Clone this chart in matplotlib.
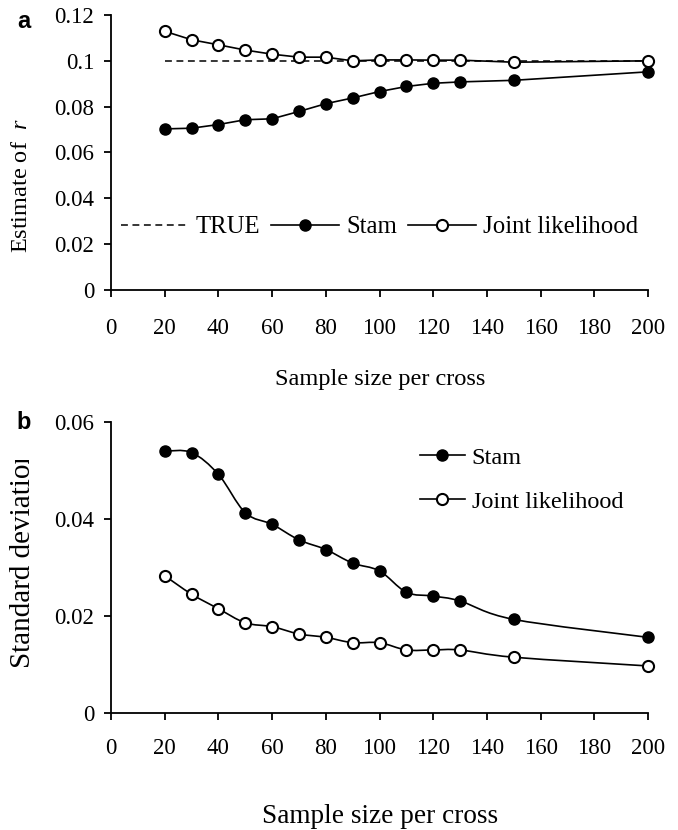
import matplotlib
matplotlib.use("Agg")
import matplotlib.pyplot as plt
import numpy as np
from matplotlib.path import Path
from matplotlib.patches import PathPatch
from matplotlib.lines import Line2D
from matplotlib.transforms import Bbox, TransformedBbox

# ---------------- data ----------------
sample_size = [20, 30, 40, 50, 60, 70, 80, 90, 100, 110, 120, 130, 150, 200]
true_r = [0.1, 0.1]
true_x = [20, 200]
est_stam = [0.0703, 0.0706, 0.0722, 0.0743, 0.0747, 0.0779, 0.0813, 0.0838,
            0.0866, 0.0888, 0.0902, 0.0908, 0.0915, 0.0952]
est_joint = [0.1129, 0.1092, 0.1070, 0.1047, 0.1029, 0.1016, 0.1016, 0.1000,
             0.1004, 0.1004, 0.1003, 0.1003, 0.0994, 0.1000]
sd_stam = [0.0540, 0.0537, 0.0492, 0.0413, 0.0389, 0.0357, 0.0337, 0.0309,
           0.0293, 0.0249, 0.0241, 0.0231, 0.0193, 0.0156]
sd_joint = [0.0283, 0.0245, 0.0215, 0.0186, 0.0178, 0.0163, 0.0156, 0.0145,
            0.0145, 0.0130, 0.0130, 0.0130, 0.0115, 0.0097]
x_ticks = list(range(0, 201, 20))
y_ticks_a = [0, 0.02, 0.04, 0.06, 0.08, 0.1, 0.12]
y_ticks_b = [0, 0.02, 0.04, 0.06]

SERIF = ["Liberation Serif", "DejaVu Serif"]
SANS = ["Liberation Sans", "DejaVu Sans"]
plt.rcParams["font.family"] = SERIF
plt.rcParams["mathtext.fontset"] = "custom"
plt.rcParams["mathtext.it"] = "Liberation Serif:italic"
plt.rcParams["mathtext.rm"] = "Liberation Serif"

W, H = 678, 830
fig = plt.figure(figsize=(W / 100, H / 100), dpi=100)

def fx(px):
    return px / W

def fy(py):
    return 1 - py / H

LEFT, RIGHT = 111, 648
ax_a = fig.add_axes([fx(LEFT), fy(290), fx(RIGHT - LEFT), (290 - 15) / H])
ax_b = fig.add_axes([fx(LEFT), fy(713), fx(RIGHT - LEFT), (713 - 422) / H])

TICK_FS = 16.5
LEG_FS = 17.8
LW = 1.2
MS = 8.0

def style_axes(ax, yticks, ylim, xpad):
    ax.set_xlim(0, 200)
    ax.set_ylim(*ylim)
    ax.set_xticks(x_ticks)
    ax.set_xticklabels([str(v) for v in x_ticks])
    ax.set_yticks(yticks)
    ax.set_yticklabels([("%g" % v) for v in yticks])
    for s in ["top", "right"]:
        ax.spines[s].set_visible(False)
    for s in ["left", "bottom"]:
        ax.spines[s].set_linewidth(1.3)
        ax.spines[s].set_clip_on(False)
    ax.tick_params(axis="x", direction="out", length=5, width=1.3,
                   labelsize=TICK_FS, pad=xpad)
    ax.tick_params(axis="y", direction="out", length=5, width=1.3,
                   labelsize=TICK_FS, pad=7)
    ax.patch.set_visible(False)

def smooth_path(x, y):
    pts = np.column_stack([x, y]).astype(float)
    n = len(pts)
    verts = [pts[0]]
    codes = [Path.MOVETO]
    for i in range(n - 1):
        p0 = pts[i - 1] if i > 0 else pts[i]
        p1 = pts[i]
        p2 = pts[i + 1]
        p3 = pts[i + 2] if i + 2 < n else pts[i + 1]
        c1 = p1 + (p2 - p0) / 6.0
        c2 = p2 - (p3 - p1) / 6.0
        verts += [c1, c2, p2]
        codes += [Path.CURVE4] * 3
    return Path(verts, codes)

# ---------------- panel a ----------------
style_axes(ax_a, y_ticks_a, (0, 0.12), 15)
ax_a.plot(true_x, true_r, color="black", lw=1.1, ls=(0, (4.5, 3)), zorder=1)
ax_a.plot(sample_size, est_stam, color="black", lw=LW, marker="o", ms=MS,
          mfc="black", mec="black", zorder=3, clip_on=False)
ax_a.plot(sample_size, est_joint, color="black", lw=LW, marker="o", ms=MS,
          mfc="white", mec="black", mew=1.5, zorder=3, clip_on=False)

h_true = Line2D([], [], color="black", lw=1.1, ls=(0, (4.5, 3)))
h_stam = Line2D([], [], color="black", lw=LW, marker="o", ms=MS,
                mfc="black", mec="black")
h_joint = Line2D([], [], color="black", lw=LW, marker="o", ms=MS,
                 mfc="white", mec="black", mew=1.5)
leg_a = ax_a.legend([h_true, h_stam, h_joint], ["TRUE", "Stam", "Joint likelihood"],
                    ncol=3, loc="center left", bbox_to_anchor=(0.018, 0.228),
                    frameon=False, fontsize=LEG_FS, handlelength=2.75,
                    handletextpad=0.28, columnspacing=0.44, borderaxespad=0,
                    borderpad=0)

fig.text(fx(22), fy(186), "Estimate of  $r$", fontsize=17.5, rotation=90,
         ha="center", va="center")
fig.text(fx(380), fy(380), "Sample size per cross", fontsize=17.6,
         ha="center", va="center")
fig.text(fx(24), fy(21), "a", fontsize=17, fontweight="bold",
         family=SANS, ha="center", va="center")

# ---------------- panel b ----------------
style_axes(ax_b, y_ticks_b, (0, 0.06), 13)
ax_b.add_patch(PathPatch(smooth_path(sample_size, sd_stam), fill=False,
                         edgecolor="black", lw=LW, zorder=2))
ax_b.add_patch(PathPatch(smooth_path(sample_size, sd_joint), fill=False,
                         edgecolor="black", lw=LW, zorder=2))
ax_b.plot(sample_size, sd_stam, ls="none", marker="o", ms=MS,
          mfc="black", mec="black", zorder=3, clip_on=False)
ax_b.plot(sample_size, sd_joint, ls="none", marker="o", ms=MS,
          mfc="white", mec="black", mew=1.5, zorder=3, clip_on=False)

leg_b = ax_b.legend([h_stam, h_joint], ["Stam", "Joint likelihood"],
                    loc="upper left", bbox_to_anchor=(0.575, 0.915),
                    frameon=False, fontsize=17.5, handlelength=1.85,
                    handletextpad=0.28, labelspacing=0.9, borderaxespad=0,
                    borderpad=0)

t = fig.text(fx(23), fy(668), "Standard deviation", fontsize=21,
             rotation=90, ha="center", va="bottom")
clip = TransformedBbox(Bbox([[0, fy(713)], [fx(60), fy(460)]]), fig.transFigure)
t.set_clip_box(clip)
t.set_clip_on(True)

fig.text(fx(380), fy(816), "Sample size per cross", fontsize=19.6,
         ha="center", va="center")
fig.text(fx(24), fy(422), "b", fontsize=17, fontweight="bold",
         family=SANS, ha="center", va="center")

fig.savefig("out.png", dpi=100, facecolor="white")
